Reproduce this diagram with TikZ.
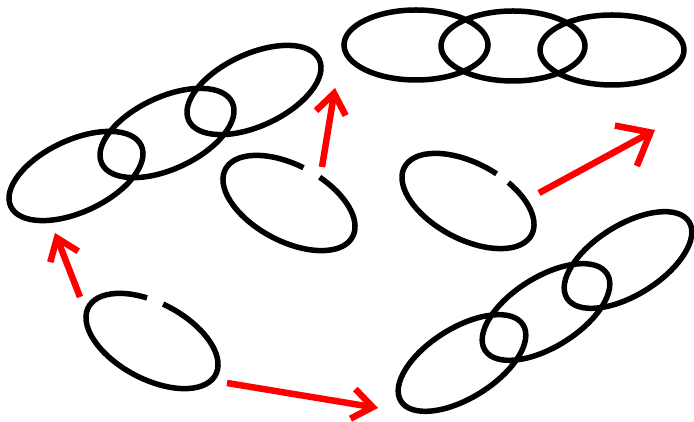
\documentclass[tikz,border=0pt]{standalone}
\usepackage{tikz}
\usetikzlibrary{arrows.meta}

\begin{document}
\begin{tikzpicture}[
    x=1pt, y=1pt,
    chainlink/.style={draw, line width=5.5pt},
    arr/.style={draw=red, line width=6.5pt, -{Straight Barb[length=20pt, width=30pt]}},
    bigarr/.style={arr, -{Straight Barb[length=28pt, width=46pt]}}
]
\useasboundingbox (0,0) rectangle (694,422);

% open links
\draw[chainlink, shift={(152,81)}, rotate=-28] (110:72 and 38) arc[start angle=110, end angle=456, x radius=72, y radius=38];
\draw[chainlink, shift={(289,219)}, rotate=-28] (93:72 and 38) arc[start angle=93, end angle=438, x radius=72, y radius=38];
\draw[chainlink, shift={(468,221)}, rotate=-28] (80:72 and 38) arc[start angle=80, end angle=428, x radius=72, y radius=38];

% closed chains
\foreach \cx/\cy in {76/246, 167/289, 254/332}
    \draw[chainlink, shift={(\cx,\cy)}, rotate=25] (0,0) ellipse [x radius=72, y radius=36];
\foreach \cx/\cy in {416/377, 513/376, 612/372}
    \draw[chainlink, shift={(\cx,\cy)}] (0,0) ellipse [x radius=72, y radius=35];
\foreach \cx/\cy in {462/59, 546/110, 628/162}
    \draw[chainlink, shift={(\cx,\cy)}, rotate=32] (0,0) ellipse [x radius=72, y radius=35];

% arrows
\coordinate (left0) at (80,125);
\coordinate (left1) at (55,189);
\coordinate (mid0) at (322,255);
\coordinate (mid1) at (335,334);
\coordinate (right0) at (539,229);
\coordinate (right1) at (655,292);
\coordinate (low0) at (227,39);
\coordinate (low1) at (378,14);

\draw[arr] (left0) -- (left1);
\draw[arr] (mid0) -- (mid1);
\draw[bigarr] (right0) -- (right1);
\draw[arr] (low0) -- (low1);
\end{tikzpicture}
\end{document}
